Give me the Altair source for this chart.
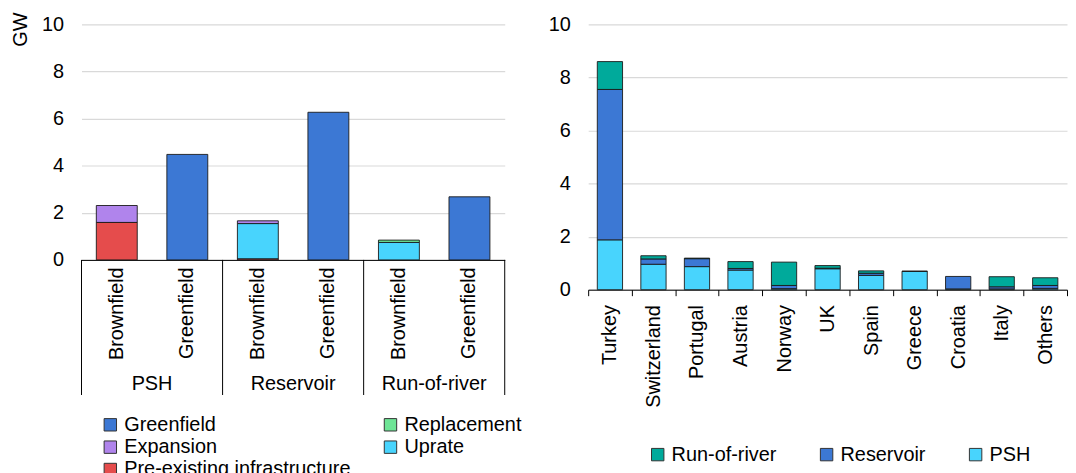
import altair as alt
import pandas as pd

# ---------------- Left panel data ----------------
groups = ["PSH", "PSH", "Reservoir", "Reservoir", "Run-of-river", "Run-of-river"]
sites = ["Brownfield", "Greenfield", "Brownfield", "Greenfield", "Brownfield", "Greenfield"]
greenfield = [0, 4.48, 0, 6.27, 0, 2.68]
replacement = [0, 0, 0, 0, 0.10, 0]
expansion = [0.72, 0, 0.12, 0, 0, 0]
uprate = [0, 0, 1.50, 0, 0.74, 0]
pre_existing = [1.59, 0, 0.04, 0, 0, 0]

# legend order (column-major, 2 columns)
left_legend = ["Greenfield", "Expansion", "Pre-existing infrastructure", "Replacement", "Uprate"]
left_colors = ["#3c78d4", "#b084ec", "#e54c4c", "#6ee596", "#48d4fd"]
left_stack = {"Pre-existing infrastructure": 0, "Uprate": 1, "Replacement": 2, "Expansion": 3, "Greenfield": 4}

# ---------------- Right panel data ----------------
countries = ["Turkey", "Switzerland", "Portugal", "Austria", "Norway", "UK",
             "Spain", "Greece", "Croatia", "Italy", "Others"]
psh = [1.88, 0.96, 0.87, 0.74, 0.04, 0.79, 0.54, 0.69, 0.03, 0.03, 0.05]
reservoir = [5.67, 0.20, 0.30, 0.06, 0.12, 0.02, 0.08, 0.00, 0.47, 0.08, 0.11]
ror = [1.05, 0.12, 0.02, 0.26, 0.88, 0.10, 0.09, 0.01, 0.00, 0.38, 0.29]

right_legend = ["Run-of-river", "Reservoir", "PSH"]
right_colors = ["#00aa9b", "#3c78d4", "#48d4fd"]
right_stack = {"PSH": 0, "Reservoir": 1, "Run-of-river": 2}

FONT = "Liberation Sans"

# ---------------- Build tables ----------------
keys = [f"{g}|{s}" for g, s in zip(groups, sites)]
rows = []
series = {"Greenfield": greenfield, "Replacement": replacement, "Expansion": expansion,
          "Uprate": uprate, "Pre-existing infrastructure": pre_existing}
for name, vals in series.items():
    for k, v in zip(keys, vals):
        if v > 0:
            rows.append({"key": k, "category": name, "value": v, "stack": left_stack[name]})
left_df = pd.DataFrame(rows)

group_names = ["PSH", "Reservoir", "Run-of-river"]
first_keys = [f"{g}|Brownfield" for g in group_names]
sep_df = pd.DataFrame({"key": first_keys})
end_df = pd.DataFrame({"key": [keys[-1]]})
grp_df = pd.DataFrame({"key": first_keys, "label": group_names})

rrows = []
for name, vals in {"PSH": psh, "Reservoir": reservoir, "Run-of-river": ror}.items():
    for c, v in zip(countries, vals):
        if v > 0:
            rrows.append({"country": c, "category": name, "value": v, "stack": right_stack[name]})
right_df = pd.DataFrame(rrows)

LW, LH = 426, 237
RW, RH = 482, 267

band_scale = alt.Scale(paddingInner=0, paddingOuter=0)

x_left = alt.X("key:N", sort=keys, scale=band_scale,
               axis=alt.Axis(title=None, labelExpr="split(datum.label, '|')[1]",
                             labelAngle=-90, ticks=False, tickSize=0, labelPadding=7,
                             domainColor="#000000", domainWidth=1))

bars_left = alt.Chart(left_df).mark_bar(
    width=alt.RelativeBandSize(0.58), stroke="#1a1a1a", strokeWidth=0.9
).encode(
    x=x_left,
    y=alt.Y("value:Q", stack="zero", scale=alt.Scale(domain=[0, 10], nice=False),
            axis=alt.Axis(values=[0, 2, 4, 6, 8, 10], title="GW", domain=False,
                          ticks=False, tickSize=0, labelPadding=18,
                          titleAngle=-90, titleX=-61, titleY=22,
                          titleAlign="left", titleBaseline="middle")),
    color=alt.Color("category:N", scale=alt.Scale(domain=left_legend, range=left_colors),
                    legend=alt.Legend(title=None, orient="none", legendX=19, legendY=393,
                                      columns=2, columnPadding=30, rowPadding=2.5,
                                      labelLimit=0)),
    order=alt.Order("stack:Q"),
)

seps = alt.Chart(sep_df).mark_rule(color="#000000", strokeWidth=1).encode(
    x=alt.X("key:N", sort=keys, bandPosition=0),
    y=alt.value(LH), y2=alt.value(LH + 136),
)
seps_end = alt.Chart(end_df).mark_rule(color="#000000", strokeWidth=1).encode(
    x=alt.X("key:N", sort=keys, bandPosition=1),
    y=alt.value(LH), y2=alt.value(LH + 136),
)
grp_text = alt.Chart(grp_df).mark_text(fontSize=20, font=FONT, color="#000000",
                                       baseline="middle", align="center").encode(
    x=alt.X("key:N", sort=keys, bandPosition=1),
    y=alt.value(LH + 125),
    text="label:N",
)

left = alt.layer(bars_left, seps, seps_end, grp_text).properties(width=LW, height=LH)

right = alt.Chart(right_df).mark_bar(
    width=alt.RelativeBandSize(0.58), stroke="#1a1a1a", strokeWidth=0.9
).encode(
    x=alt.X("country:N", sort=countries, scale=band_scale,
            axis=alt.Axis(title=None, labelAngle=-90, tickBand="extent", tickSize=6,
                          tickColor="#000000", labelPadding=9,
                          domainColor="#000000", domainWidth=1)),
    y=alt.Y("value:Q", stack="zero", scale=alt.Scale(domain=[0, 10], nice=False),
            axis=alt.Axis(values=[0, 2, 4, 6, 8, 10], title=None, domain=False,
                          ticks=False, tickSize=0, labelPadding=18)),
    color=alt.Color("category:N", scale=alt.Scale(domain=right_legend, range=right_colors),
                    legend=alt.Legend(title=None, orient="none", legendX=60, legendY=423,
                                      direction="horizontal", columnPadding=40,
                                      labelLimit=0)),
    order=alt.Order("stack:Q"),
).properties(width=RW, height=RH)

chart = alt.hconcat(left, right, spacing=84, bounds="flush").resolve_scale(
    color="independent", x="independent", y="independent"
).resolve_legend(color="independent").properties(
    padding={"top": 2, "left": 3, "right": 0, "bottom": 0}
).configure(font=FONT).configure_view(stroke=None).configure_axis(
    labelFont=FONT, labelFontSize=20, labelColor="#000000",
    titleFont=FONT, titleFontSize=20, titleColor="#000000", titleFontWeight="normal",
    gridColor="#d9d9d9", gridWidth=1.2,
).configure_axisX(grid=False).configure_legend(
    labelFont=FONT, labelFontSize=20, labelColor="#000000",
    symbolType="square", symbolSize=156, symbolStrokeColor="#333333",
    symbolStrokeWidth=1, labelOffset=4, padding=0,
)

chart.save("out.html", embed_options={"renderer": "svg", "actions": False})
